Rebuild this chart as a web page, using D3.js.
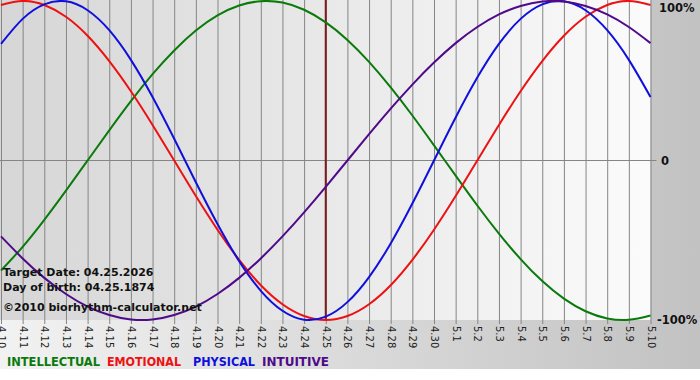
<!DOCTYPE html>
<html>
<head>
<meta charset="utf-8">
<script src="https://cdn.jsdelivr.net/npm/d3@7"></script>
<style>
  html, body { margin: 0; padding: 0; background: #fff; }
  svg { display: block; }
</style>
</head>
<body>
<div id="chart"></div>
<script>
// days shown on the x axis
var dates = ["4.10", "4.11", "4.12", "4.13", "4.14", "4.15", "4.16", "4.17", "4.18", "4.19",
  "4.20", "4.21", "4.22", "4.23", "4.24", "4.25", "4.26", "4.27", "4.28", "4.29", "4.30",
  "5.1", "5.2", "5.3", "5.4", "5.5", "5.6", "5.7", "5.8", "5.9", "5.10"];

// cycle values per day (-1 .. 1)
var intellectual = [-0.690, -0.541, -0.372, -0.189, 0.000, 0.189, 0.372, 0.541, 0.690, 0.815, 0.910, 0.972, 0.999, 0.990, 0.945, 0.866,
  0.756, 0.618, 0.458, 0.282, 0.095, -0.095, -0.282, -0.458, -0.618, -0.756, -0.866, -0.945, -0.990, -0.999, -0.972];
var emotional = [0.975, 1.000, 0.975, 0.901, 0.782, 0.623, 0.434, 0.223, 0.000, -0.223, -0.434, -0.623, -0.782, -0.901, -0.975, -1.000,
  -0.975, -0.901, -0.782, -0.623, -0.434, -0.223, 0.000, 0.223, 0.434, 0.623, 0.782, 0.901, 0.975, 1.000, 0.975];
var physical = [0.731, 0.888, 0.979, 0.998, 0.942, 0.817, 0.631, 0.398, 0.136, -0.136, -0.398, -0.631, -0.817, -0.942, -0.998, -0.979,
  -0.888, -0.731, -0.520, -0.270, 0.000, 0.270, 0.520, 0.731, 0.888, 0.979, 0.998, 0.942, 0.817, 0.631, 0.398];
var intuitive = [-0.476, -0.614, -0.736, -0.837, -0.916, -0.969, -0.997, -0.997, -0.969, -0.916, -0.837, -0.736, -0.614, -0.476, -0.325, -0.165,
  0.000, 0.165, 0.325, 0.476, 0.614, 0.736, 0.837, 0.916, 0.969, 0.997, 0.997, 0.969, 0.916, 0.837, 0.736];

var seriesNames = ["INTELLECTUAL", "EMOTIONAL", "PHYSICAL", "INTUITIVE"];
var yTicks = [1, 0, -1];
var yTickLabels = ["100%", "0", "-100%"];
var targetDate = "4.25";
var infoLines = ["Target Date: 04.25.2026", "Day of birth: 04.25.1874"];
var credit = "\u00a92010 biorhythm-calculator.net";

var width = 700;     // 画布宽度
var height = 380;    // 画布高度
var plotLeft = 1, plotRight = 650.5, plotTop = 1, plotBottom = 320;

var svg = d3.select("#chart")
  .append("svg")
  .attr("width", width)
  .attr("height", height);

var defs = svg.append("defs");

// outer background: light on the left, grey on the right
var bgGrad = defs.append("linearGradient").attr("id", "bgGrad")
  .attr("x1", "0%").attr("x2", "100%").attr("y1", "0%").attr("y2", "0%");
bgGrad.append("stop").attr("offset", "0%").attr("stop-color", "#f2f2f2");
bgGrad.append("stop").attr("offset", "100%").attr("stop-color", "#c2c2c2");

// plot background: grey on the left, almost white on the right
var plotGrad = defs.append("linearGradient").attr("id", "plotGrad")
  .attr("x1", "0%").attr("x2", "100%").attr("y1", "0%").attr("y2", "0%");
plotGrad.append("stop").attr("offset", "0%").attr("stop-color", "#d6d6d6");
plotGrad.append("stop").attr("offset", "100%").attr("stop-color", "#fbfbfb");

svg.append("rect")
  .attr("x", 0).attr("y", 0)
  .attr("width", width).attr("height", 369)
  .attr("fill", "url(#bgGrad)");

svg.append("rect")
  .attr("x", 0).attr("y", 0)
  .attr("width", plotRight).attr("height", plotBottom)
  .attr("fill", "url(#plotGrad)");

var x = d3.scalePoint()
  .domain(dates)
  .range([plotLeft, plotRight]);

var y = d3.scaleLinear()
  .domain([-1, 1])
  .range([plotBottom, plotTop]);

// vertical day grid + ticks
var xAxis = d3.axisBottom(x).tickSize(plotBottom + 4).tickPadding(4);
var gx = svg.append("g")
  .call(xAxis);
gx.select(".domain").remove();
gx.selectAll(".tick line")
  .attr("stroke", "#858585")
  .attr("stroke-width", 1);
gx.selectAll(".tick text")
  .attr("transform", "translate(0," + (plotBottom + 3) + ") rotate(90)")
  .attr("x", 3)
  .attr("y", 0)
  .attr("dy", "0.35em")
  .attr("text-anchor", "start")
  .attr("fill", "#222")
  .style("font-family", "Verdana, 'DejaVu Sans', sans-serif")
  .style("font-size", "10px");

// zero line
svg.append("line")
  .attr("x1", 0).attr("x2", plotRight + 6)
  .attr("y1", y(0)).attr("y2", y(0))
  .attr("stroke", "#858585")
  .attr("stroke-width", 1);

// right side labels
svg.selectAll(".ylab")
  .data(yTicks)
  .enter()
  .append("text")
  .attr("class", "ylab")
  .attr("x", function (d, i) { return i === 1 ? 661 : (i === 0 ? 659 : 657); })
  .attr("y", function (d) { return Math.min(Math.max(y(d), 8), 322); })
  .attr("dy", "0.35em")
  .attr("fill", "#111")
  .style("font-family", "'DejaVu Sans', Verdana, sans-serif")
  .style("font-weight", "bold")
  .style("font-size", "11.5px")
  .text(function (d, i) { return yTickLabels[i]; });

// target day marker
svg.append("line")
  .attr("x1", x(targetDate)).attr("x2", x(targetDate))
  .attr("y1", 0).attr("y2", plotBottom)
  .attr("stroke", "#7a1c1c")
  .attr("stroke-width", 2);

var series = [
  { name: seriesNames[0], values: intellectual, color: "#0a7a0a" },
  { name: seriesNames[1], values: emotional, color: "#ee1111" },
  { name: seriesNames[2], values: physical, color: "#1010dd" },
  { name: seriesNames[3], values: intuitive, color: "#4f0a8a" }
];

var line = d3.line()
  .x(function (d, i) { return x(dates[i]); })
  .y(function (d) { return y(d); })
  .curve(d3.curveNatural);

svg.append("g")
  .selectAll("path")
  .data(series)
  .enter()
  .append("path")
  .attr("d", function (d) { return line(d.values); })
  .attr("fill", "none")
  .attr("stroke", function (d) { return d.color; })
  .attr("stroke-width", 2);

// info text
svg.selectAll(".info")
  .data(infoLines)
  .enter()
  .append("text")
  .attr("class", "info")
  .attr("x", 3)
  .attr("y", function (d, i) { return 276 + i * 15; })
  .attr("fill", "#111")
  .style("font-family", "'DejaVu Sans', Verdana, sans-serif")
  .style("font-weight", "bold")
  .style("font-size", "11px")
  .text(function (d) { return d; });

svg.append("text")
  .attr("x", 3)
  .attr("y", 311)
  .attr("fill", "#111")
  .style("font-family", "'DejaVu Sans', Verdana, sans-serif")
  .style("font-weight", "bold")
  .style("font-size", "11px")
  .text(credit);

// legend
var legendX = [7, 107, 193, 262];
var legendW = [93, 74, 62, 67];
svg.selectAll(".legend")
  .data(series)
  .enter()
  .append("text")
  .attr("class", "legend")
  .attr("x", function (d, i) { return legendX[i]; })
  .attr("y", 366)
  .attr("textLength", function (d, i) { return legendW[i]; })
  .attr("lengthAdjust", "spacingAndGlyphs")
  .attr("fill", function (d) { return d.color; })
  .style("font-family", "'DejaVu Sans Condensed', 'DejaVu Sans', sans-serif")
  .style("font-weight", "bold")
  .style("font-size", "12px")
  .text(function (d) { return d.name; });
</script>
</body>
</html>
